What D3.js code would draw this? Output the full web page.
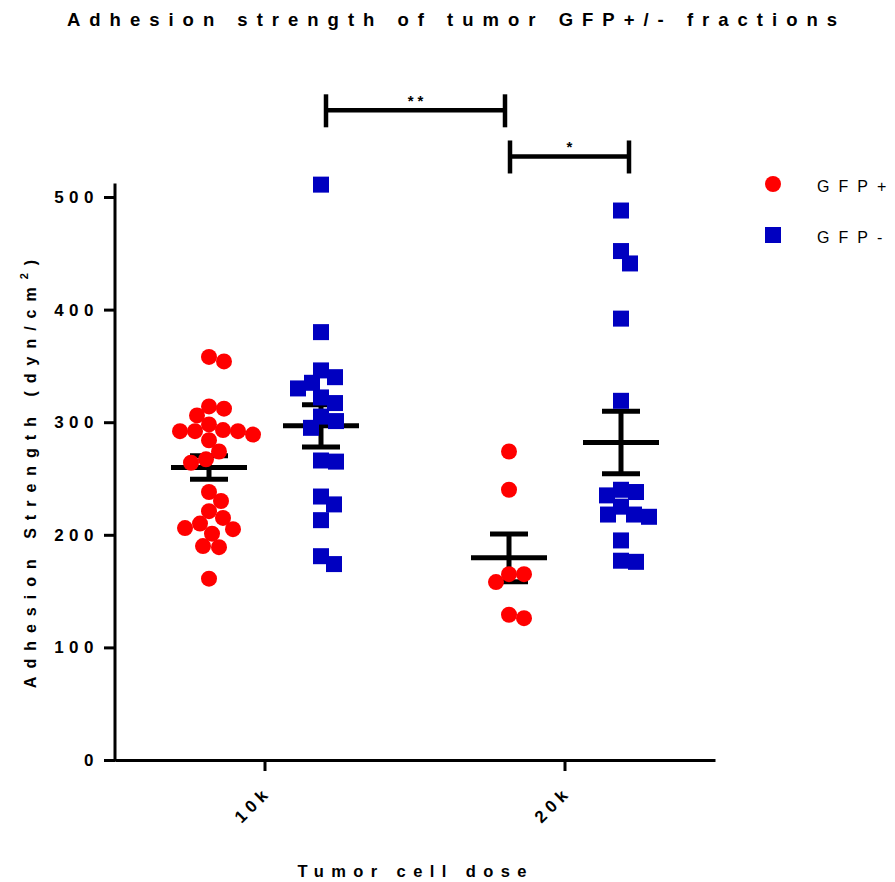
<!DOCTYPE html>
<html>
<head>
<meta charset="utf-8">
<script src="https://cdn.jsdelivr.net/npm/d3@7"></script>
<style>
  body { margin: 0; background: #fff; }
  text { font-family: "Liberation Sans", Arial, sans-serif; fill: #000; }
</style>
</head>
<body>
<script>
// data
const groups = ["10k", "20k"];
const series = ["GFP+", "GFP-"];
const gfpPos10k = [358, 354, 314, 312, 306, 298, 293, 292, 292, 292, 289, 284, 274, 267, 264, 238, 230, 221, 215, 210, 206, 205, 201, 190, 189, 161];
const gfpNeg10k = [511, 380, 346, 340, 335, 330, 322, 317, 305, 301, 295, 266, 265, 234, 227, 213, 181, 174];
const gfpPos20k = [274, 240, 165, 165, 158, 129, 126];
const gfpNeg20k = [488, 452, 441, 392, 319, 240, 238, 235, 225, 218, 218, 216, 195, 177, 176];
const yTicks = [0, 100, 200, 300, 400, 500];
const sigLabels = ["**", "*"];

const width = 895, height = 882;

const svg = d3.select("body").append("svg")
    .attr("width", width)
    .attr("height", height);

const x = d3.scaleBand().domain(groups).range([115, 715]);
const xs = d3.scalePoint().domain(series).range([-56, 56]);
const y = d3.scaleLinear().domain([0, 512]).range([760, 183.5]);
const color = {"GFP+": "#ff0000", "GFP-": "#0000c0"};

const table = [
    {group: "10k", series: "GFP+", values: gfpPos10k},
    {group: "10k", series: "GFP-", values: gfpNeg10k},
    {group: "20k", series: "GFP+", values: gfpPos20k},
    {group: "20k", series: "GFP-", values: gfpNeg20k}
];

// simple beeswarm so the dots spread like the prism scatter
function swarm(values, cx) {
    const placed = [];
    const D = 15;
    values.slice().sort((a, b) => b - a).forEach(v => {
        const py = y(v);
        let off = 0;
        for (let k = 0; k < 200; k++) {
            off = (k % 2 ? 1 : -1) * Math.ceil(k / 2);
            const ok = placed.every(p => Math.hypot(p.x - (cx + off), p.y - py) >= D);
            if (ok) break;
        }
        placed.push({x: cx + off, y: py, v: v});
    });
    return placed;
}

// title
svg.append("text")
    .attr("x", 456.5).attr("y", 26)
    .attr("text-anchor", "middle")
    .style("font-size", "18.5px").style("font-weight", "bold")
    .style("letter-spacing", "9px")
    .text("Adhesion strength of tumor GFP+/- fractions");

// y axis
const gy = svg.append("g").attr("transform", "translate(115,0)");
gy.call(d3.axisLeft(y).tickValues(d3.range(0, 501, 25)).tickSize(6).tickFormat(""));
gy.call(d3.axisLeft(y).tickValues(yTicks).tickSize(11).tickFormat(d3.format("d")));
gy.selectAll("path.domain").remove();
gy.append("line").attr("y1", y(0) + 1.5).attr("y2", y(512)).attr("stroke", "#000").attr("stroke-width", 3);
gy.selectAll(".tick line").attr("stroke", "#000").attr("stroke-width", 3);
gy.selectAll(".tick text")
    .attr("x", -16)
    .style("font-size", "17px").style("font-weight", "bold")
    .style("letter-spacing", "5.5px");

svg.append("text")
    .attr("transform", "translate(36,470) rotate(-90)")
    .attr("text-anchor", "middle")
    .style("font-size", "16px").style("font-weight", "bold")
    .style("letter-spacing", "8px")
    .call(t => {
        t.append("tspan").text("Adhesion Strength (dyn/cm");
        t.append("tspan").attr("dy", -8).style("font-size", "11px").text("2");
        t.append("tspan").attr("dy", 8).text(")");
    });

// x axis
const gx = svg.append("g").attr("transform", "translate(0," + y(0) + ")");
gx.call(d3.axisBottom(x).tickSize(11).tickSizeOuter(0));
gx.select("path.domain").attr("stroke", "#000").attr("stroke-width", 3);
gx.selectAll(".tick line").attr("stroke", "#000").attr("stroke-width", 3);
gx.selectAll(".tick text")
    .attr("text-anchor", "end")
    .attr("transform", "translate(3,29) rotate(-45)")
    .attr("y", 0).attr("dy", "0.35em")
    .style("font-size", "17px").style("font-weight", "bold")
    .style("letter-spacing", "5px");

svg.append("text")
    .attr("x", 415.7).attr("y", 877)
    .attr("text-anchor", "middle")
    .style("font-size", "16.5px").style("font-weight", "bold")
    .style("letter-spacing", "7.4px")
    .text("Tumor cell dose");

// mean + SEM bars, drawn under the points
const bars = svg.append("g");
table.forEach(d => {
    const cx = x(d.group) + x.bandwidth() / 2 + xs(d.series);
    const m = d3.mean(d.values);
    const sem = d3.deviation(d.values) / Math.sqrt(d.values.length);
    const line = (x1, x2, y1, y2) => bars.append("line")
        .attr("x1", x1).attr("x2", x2).attr("y1", y1).attr("y2", y2)
        .attr("stroke", "#000").attr("stroke-width", 5);
    line(cx - 38, cx + 38, y(m), y(m));
    line(cx - 19, cx + 19, y(m + sem), y(m + sem));
    line(cx - 19, cx + 19, y(m - sem), y(m - sem));
    line(cx, cx, y(m + sem), y(m - sem));
});

// points
table.forEach(d => {
    const cx = x(d.group) + x.bandwidth() / 2 + xs(d.series);
    const pts = swarm(d.values, cx);
    const g = svg.append("g");
    if (d.series === "GFP+") {
        g.selectAll("circle").data(pts).enter().append("circle")
            .attr("cx", p => p.x).attr("cy", p => p.y).attr("r", 8)
            .attr("fill", color[d.series]);
    } else {
        g.selectAll("rect").data(pts).enter().append("rect")
            .attr("x", p => p.x - 8).attr("y", p => p.y - 8)
            .attr("width", 16).attr("height", 16)
            .attr("fill", color[d.series]);
    }
});

// significance brackets
const sig = [
    {from: ["10k", "GFP-"], to: ["20k", "GFP+"], level: 577, dx: [5, -4]},
    {from: ["20k", "GFP+"], to: ["20k", "GFP-"], level: 536, dx: [1, 8]}
];
sig.forEach((s, i) => {
    const x1 = x(s.from[0]) + x.bandwidth() / 2 + xs(s.from[1]) + s.dx[0];
    const x2 = x(s.to[0]) + x.bandwidth() / 2 + xs(s.to[1]) + s.dx[1];
    const yy = y(s.level);
    const g = svg.append("g").attr("stroke", "#000").attr("stroke-width", 4.5);
    g.append("line").attr("x1", x1).attr("x2", x2).attr("y1", yy).attr("y2", yy);
    g.append("line").attr("x1", x1).attr("x2", x1).attr("y1", yy - 16).attr("y2", yy + 17);
    g.append("line").attr("x1", x2).attr("x2", x2).attr("y1", yy - 16).attr("y2", yy + 17);
    svg.append("text")
        .attr("x", (x1 + x2) / 2 + 2).attr("y", yy - 4)
        .attr("text-anchor", "middle")
        .style("font-size", "15px").style("font-weight", "bold")
        .style("letter-spacing", "4px")
        .text(sigLabels[i]);
});

// legend
const leg = svg.append("g").attr("transform", "translate(773,184)");
series.forEach((s, i) => {
    const g = leg.append("g").attr("transform", "translate(0," + i * 51 + ")");
    if (s === "GFP+") g.append("circle").attr("r", 8).attr("fill", color[s]);
    else g.append("rect").attr("x", -8).attr("y", -8).attr("width", 16).attr("height", 16).attr("fill", color[s]);
    g.append("text")
        .attr("x", 44).attr("y", 8)
        .style("font-size", "16px")
        .style("letter-spacing", "9px")
        .text(s);
});
</script>
</body>
</html>
